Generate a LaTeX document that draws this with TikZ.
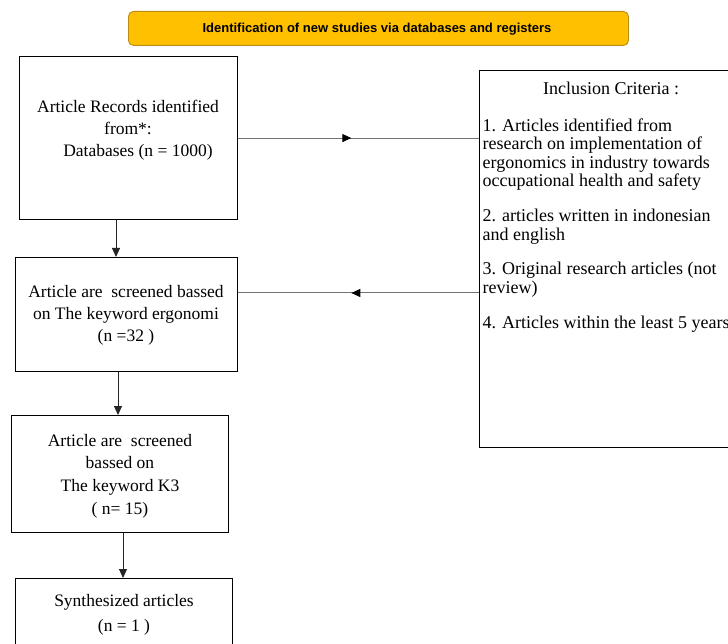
\documentclass[tikz,border=0pt]{standalone}
\usepackage{fontspec}
\setmainfont{Liberation Serif}
\setsansfont{Liberation Sans}
\usetikzlibrary{arrows.meta,decorations.markings}
\definecolor{titlefill}{RGB}{255,192,0}
\definecolor{titledraw}{RGB}{190,140,20}
\begin{document}
\begin{tikzpicture}[x=1pt,y=-1pt,
  box/.style={draw=black, line width=1.1pt, inner sep=0pt, anchor=north west},
  boxtext/.style={font=\fontsize{17.5}{22}\selectfont, align=center, inner sep=0pt},
  critline/.style={font=\fontsize{18}{18.3}\selectfont, anchor=base west, inner sep=0pt},
  varr/.style={draw=black!85, line width=0.9pt, -{Triangle[length=9pt,width=8pt]}},
  harr/.style={draw=black!55, line width=1pt, postaction={decorate},
    decoration={markings, mark=at position #1 with {\arrow[black]{Triangle[length=9pt,width=8pt]}}}}
]
\useasboundingbox (0,0) rectangle (728,644);
\fill[white] (0,0) rectangle (728,644);

% title
\node[draw=titledraw, fill=titlefill, line width=0.9pt, rounded corners=5pt,
  minimum width=500pt, minimum height=34pt, anchor=north west, inner sep=0pt] (title) at (128,11) {};
\node[font=\sffamily\bfseries\fontsize{13}{15}\selectfont, inner sep=0pt] (titletext) at (377,29)
  {Identification of new studies via databases and registers};

% boxes
\node[box, minimum width=218pt, minimum height=163pt] (b1) at (19,56) {};
\node[box, minimum width=222pt, minimum height=114pt] (b2) at (15,257) {};
\node[box, minimum width=217pt, minimum height=117pt] (b3) at (11,415) {};
\node[box, minimum width=217pt, minimum height=82pt] (b4) at (15,578) {};
\node[box, minimum width=270pt, minimum height=377pt] (crit) at (479,70) {};

% box texts
\node[boxtext] (t1) at (128,130.5) {Article Records identified\\from*:\\\hspace*{20pt}Databases (n = 1000)};
\node[boxtext] (t2) at (126,315) {Article are~ screened bassed\\on The keyword ergonomi\\(n =32 )};
\node[boxtext, font=\fontsize{17.5}{22.7}\selectfont] (t3) at (120,476) {Article are~ screened\\bassed on\\The keyword K3\\( n= 15)};
\node[boxtext, font=\fontsize{17.5}{25}\selectfont] (t4) at (124,614.5) {Synthesized articles\\(n = 1 )};

% criteria text
\node[font=\fontsize{18}{18.3}\selectfont, anchor=base, inner sep=0pt] (ch) at (611,95) {Inclusion Criteria :};
\node[critline] (c1) at (482.5,132) {1. Articles identified from};
\node[critline] (c2) at (482.5,150) {research on implementation of};
\node[critline] (c3) at (482.5,168.5) {ergonomics in industry towards};
\node[critline] (c4) at (482.5,187) {occupational health and safety};
\node[critline] (c5) at (482.5,222) {2. articles written in indonesian};
\node[critline] (c6) at (482.5,240.5) {and english};
\node[critline] (c7) at (482.5,275) {3. Original research articles (not};
\node[critline] (c8) at (482.5,294) {review)};
\node[critline] (c9) at (482.5,328) {4. Articles within the least 5 years};

% connectors
\coordinate (y2) at (0,293);
\coordinate (v1) at (116,0);
\coordinate (v2) at (118,0);
\coordinate (v3) at (123,0);
\draw[harr=0.47] (b1.east) -- (b1.east -| crit.west);
\draw[harr=0.53] (crit.west |- y2) -- (b2.east |- y2);
\draw[varr] (b1.south -| v1) -- (b2.north -| v1);
\draw[varr] (b2.south -| v2) -- (b3.north -| v2);
\draw[varr] (b3.south -| v3) -- (b4.north -| v3);
\end{tikzpicture}
\end{document}
